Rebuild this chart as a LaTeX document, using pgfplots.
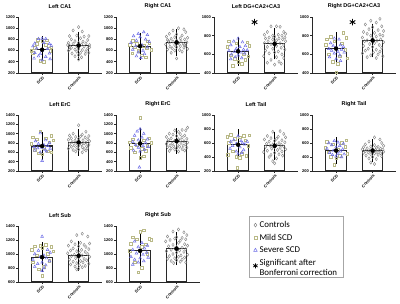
\documentclass[border=0pt]{standalone}
\usepackage{fontspec}
\setmainfont{Liberation Sans}
\newfontfamily\calibri{Carlito}
\usepackage{pgfplots}
\pgfplotsset{compat=1.18}
\definecolor{mildc}{RGB}{185,185,135}
\definecolor{sevc}{RGB}{105,105,230}
\definecolor{ctrlc}{RGB}{130,130,130}
\definecolor{barc}{RGB}{40,40,40}
\pgfplotsset{
 panel/.style={scale only axis, width=84pt, height=56pt, anchor=south west,
  axis lines*=left, axis line style={barc, line width=0.8pt},
  xmin=-0.66, xmax=1.64, xtick={0,1}, xticklabels={SCD,Controls},
  tick align=outside, major tick length=2pt, tick style={barc, line width=0.6pt},
  /pgf/number format/assume math mode=true, /pgf/number format/1000 sep={},
  scaled y ticks=false,
  yticklabel style={font=\fontsize{4}{4}\selectfont\bfseries, inner sep=1pt},
  xticklabel style={font=\fontsize{4}{4}\selectfont\bfseries, rotate=45, anchor=north east, inner sep=0.5pt, yshift=-0.5pt},
  title style={font=\fontsize{5.5}{6}\selectfont\bfseries, yshift=-1pt},
 },
 bars/.style={ybar, bar width=0.56, fill=white, draw=barc, line width=1.1pt, forget plot},
 ctrlL/.style={only marks, mark=diamond, mark size=1.6pt, mark options={draw=ctrlc, fill=none, line width=0.4pt}},
 mildL/.style={only marks, mark=square, mark size=1.3pt, mark options={draw=mildc, fill=none, line width=0.45pt}},
 sevL/.style={only marks, mark=triangle, mark size=1.6pt, mark options={draw=sevc, fill=none, line width=0.45pt}},
 ctrl/.style={ctrlL, forget plot},
 mild/.style={mildL, forget plot},
 sev/.style={sevL, forget plot},
 errs/.style={only marks, mark=none, forget plot, error bars/.cd, y dir=both, y explicit, error bar style={draw=black, line width=0.9pt}, error mark options={draw=black, mark size=7pt, line width=0.9pt}},
 star/.style={only marks, mark=asterisk, mark size=3.2pt, mark options={black, line width=0.9pt}, forget plot},
}
\begin{document}
\begin{tikzpicture}
\path[use as bounding box] (0,0) rectangle (400pt,-304pt);

% ---------- Left CA1
\begin{axis}[panel, at={(18pt,-73pt)}, title={Left CA1}, ymin=200, ymax=1200, ytick={200,400,...,1200}]
\addplot[bars] coordinates {(0,615) (1,690)};
\addplot[ctrl] coordinates {(1,1020)(0.85,960)(1.1,940)(0.75,860)(0.95,870)(1.15,850)(1.28,860)(1.05,820)(0.8,800)(1.25,790)(0.9,770)(1.12,760)(0.72,740)(1,740)(1.2,730)(0.85,720)(1.08,710)(1.3,700)(0.75,690)(0.95,680)(1.15,670)(0.8,650)(1.25,640)(1,630)(0.9,620)(1.1,610)(0.72,600)(1.2,590)(0.95,580)(1.05,560)(0.82,550)(1.18,540)(1,520)(0.9,500)(1.08,480)(1,440)(0.75,620)(1.28,560)(1.3,660)(0.7,700)};
\addplot[mild] coordinates {(-0.12,790)(0.0,780)(0.12,785)(-0.2,650)(0.18,640)(-0.25,560)(0.22,600)(0.05,400)(-0.05,420)(0.1,700)(-0.15,720)(0.25,660)(-0.3,600)};
\addplot[sev] coordinates {(-0.1,810)(0.0,815)(0.1,810)(-0.2,730)(0.05,740)(0.2,720)(-0.25,680)(0.25,690)(-0.15,640)(0.15,630)(0,600)(-0.2,560)(0.2,550)(-0.1,500)(0.1,490)(-0.22,460)(0.22,450)(0,430)(-0.05,540)};
\addplot[errs] coordinates {(0,615) +- (0,118) (1,690) +- (0,125)};
\end{axis}

% ---------- Right CA1
\begin{axis}[panel, at={(116pt,-73pt)}, title={Right CA1}, ymin=200, ymax=1200, ytick={200,400,...,1200}]
\addplot[bars] coordinates {(0,680) (1,745)};
\addplot[ctrl] coordinates {(1.05,1000)(1.2,980)(0.9,960)(1.25,930)(0.8,900)(1,890)(1.15,870)(0.72,850)(0.95,840)(1.3,830)(1.1,820)(0.85,810)(1.22,800)(0.75,790)(1,780)(1.12,770)(0.9,760)(1.28,750)(0.8,740)(1.05,730)(1.18,720)(0.7,710)(0.95,700)(1.25,690)(1.1,680)(0.82,670)(1,660)(1.2,650)(0.88,640)(1.3,630)(0.75,620)(1.08,610)(0.95,600)(1.15,580)(0.85,560)(1,460)(1.22,700)(0.78,770)};
\addplot[mild] coordinates {(-0.2,780)(0.2,770)(-0.1,720)(0.25,730)(-0.28,700)(0.1,690)(-0.15,660)(0.18,640)(-0.05,600)(0.3,620)(-0.22,550)(0.05,520)(0.15,480)};
\addplot[sev] coordinates {(0.1,930)(-0.05,900)(0.2,880)(-0.18,860)(0.0,840)(0.15,800)(-0.1,780)(0.25,760)(-0.25,740)(0.05,700)(-0.12,680)(0.2,660)(-0.2,620)(0.08,600)(-0.05,570)(0.12,540)(-0.1,500)(0.02,470)};
\addplot[errs] coordinates {(0,680) +- (0,115) (1,745) +- (0,110)};
\end{axis}

% ---------- Left DG+CA2+CA3
\begin{axis}[panel, at={(214pt,-73pt)}, title={Left DG+CA2+CA3}, ymin=400, ymax=1000, ytick={400,600,800,1000}]
\addplot[bars] coordinates {(0,632) (1,712)};
\addplot[ctrl] coordinates {(0.9,900)(1.05,900)(1.15,895)(0.8,840)(1.25,840)(1.3,820)(0.72,810)(1.1,810)(0.95,800)(1.2,800)(1,790)(0.85,780)(1.28,780)(0.75,770)(1.12,770)(0.95,760)(1.22,760)(1.05,750)(0.82,740)(1.3,740)(1,730)(0.72,720)(1.15,720)(0.9,710)(1.25,700)(1.05,690)(0.8,680)(1.18,670)(0.95,660)(1.28,650)(0.75,640)(1.1,630)(1,620)(0.85,610)(1.2,600)(0.7,580)(1.05,570)(1.25,560)(0.9,540)(1.12,520)(0.8,510)(1.18,500)(1,490)};
\addplot[mild] coordinates {(-0.25,740)(0.25,730)(-0.05,720)(0.3,690)(-0.3,680)(0.15,600)(-0.2,590)(0.28,580)(-0.1,550)(0.2,540)(0.0,520)(-0.15,475)(0.1,500)};
\addplot[sev] coordinates {(0.0,770)(-0.12,740)(0.12,730)(-0.2,700)(0.2,690)(0.05,680)(-0.05,660)(0.15,650)(-0.25,640)(0.25,645)(-0.1,630)(0.08,620)(-0.18,600)(0.18,610)(0,590)(-0.08,570)(0.1,560)(-0.2,550)};
\addplot[errs] coordinates {(0,632) +- (0,80) (1,712) +- (0,92)};
\addplot[star] coordinates {(0.45,945)};
\end{axis}

% ---------- Right DG+CA2+CA3
\begin{axis}[panel, at={(312pt,-73pt)}, title={Right DG+CA2+CA3}, ymin=400, ymax=1000, ytick={400,600,800,1000}]
\addplot[bars] coordinates {(0,662) (1,748)};
\addplot[ctrl] coordinates {(1.2,980)(0.95,960)(1.1,940)(0.8,920)(1.25,900)(1,890)(0.9,870)(1.15,860)(1.3,850)(0.75,840)(1.05,830)(0.85,820)(1.2,810)(1.28,800)(0.95,800)(1.1,790)(0.72,780)(1,770)(1.22,760)(0.85,750)(1.12,745)(0.78,740)(1.3,730)(1.05,720)(0.92,710)(1.18,700)(0.75,690)(1,680)(1.25,670)(0.88,660)(1.1,650)(0.8,640)(1.2,630)(1.02,620)(0.72,610)(1.15,600)(0.95,590)(1.28,580)(1.1,560)(0.85,570)};
\addplot[mild] coordinates {(0.2,830)(-0.15,790)(0.28,780)(-0.25,760)(-0.05,740)(0.15,720)(-0.28,700)(0.25,650)(-0.2,600)(0.1,580)(0.3,560)(-0.1,520)(0.05,500)(0,410)};
\addplot[sev] coordinates {(-0.05,770)(0.08,760)(-0.15,720)(0.12,700)(-0.08,690)(0.2,680)(0.02,670)(-0.2,660)(0.15,650)(-0.12,640)(0.05,630)(0.22,620)(-0.05,610)(0.1,590)(-0.18,570)(0.0,550)(0.12,530)};
\addplot[errs] coordinates {(0,662) +- (0,97) (1,748) +- (0,105)};
\addplot[star] coordinates {(0.45,945)};
\end{axis}

% ---------- Left ErC
\begin{axis}[panel, at={(18pt,-171pt)}, title={Left ErC}, ymin=200, ymax=1400, ytick={200,400,...,1400}]
\addplot[bars] coordinates {(0,735) (1,812)};
\addplot[ctrl] coordinates {(1,1180)(1.2,1040)(0.85,1000)(1.1,980)(0.75,960)(1.28,950)(1.05,940)(0.92,930)(1.18,920)(0.8,900)(1,890)(1.25,880)(0.72,870)(1.12,860)(0.9,850)(1.3,840)(1.02,830)(0.82,820)(1.2,810)(0.95,800)(1.15,790)(0.75,780)(1.08,770)(1.28,760)(0.88,750)(1,740)(1.22,730)(0.8,720)(1.1,710)(0.95,700)(1.25,690)(0.72,680)(1.15,670)(1,660)(0.85,650)(1.2,640)(0.92,620)(1.1,600)};
\addplot[mild] coordinates {(-0.05,1050)(0.25,960)(-0.25,920)(0.1,900)(-0.15,880)(0.3,860)(0.2,820)(-0.3,780)(0.05,700)(-0.2,650)(0.15,620)(-0.1,580)(0.0,560)(0.25,600)};
\addplot[sev] coordinates {(-0.05,1010)(0.1,860)(-0.18,840)(0.2,800)(-0.1,780)(0.05,760)(0.15,740)(-0.22,720)(0,700)(-0.12,690)(0.22,680)(0.08,660)(-0.2,640)(0.12,620)(-0.05,600)(0,420)};
\addplot[errs] coordinates {(0,735) +- (0,140) (1,812) +- (0,130)};
\end{axis}

% ---------- Right ErC
\begin{axis}[panel, at={(116pt,-171pt)}, title={Right ErC}, ymin=200, ymax=1400, ytick={200,400,...,1400}]
\addplot[bars] coordinates {(0,790) (1,840)};
\addplot[ctrl] coordinates {(1.3,1130)(1.15,1080)(1.25,1070)(0.95,1070)(1.05,1040)(0.8,1000)(1.1,990)(0.9,980)(1.22,960)(1,950)(0.72,930)(1.15,920)(0.85,900)(1.28,890)(1.05,880)(0.78,870)(1.1,860)(0.95,850)(1.2,840)(0.75,830)(1,820)(1.3,810)(1.12,800)(0.88,790)(0.72,780)(1.25,770)(1.02,760)(0.82,750)(1.18,740)(0.92,730)(1.08,720)(0.75,710)(1.28,700)(1,690)(0.85,680)(1.15,670)(0.95,660)(1.22,640)(0.8,630)(1.05,620)};
\addplot[mild] coordinates {(0,1340)(0.25,900)(-0.2,880)(0.1,860)(-0.28,820)(0.3,800)(-0.1,760)(0.2,740)(-0.25,700)(0.05,680)(0.15,640)(-0.15,600)(0,480)(0.1,520)};
\addplot[sev] coordinates {(0,1100)(-0.08,1050)(0.1,1000)(-0.15,960)(0.05,920)(0.2,880)(-0.05,860)(-0.2,830)(0.15,800)(0,780)(-0.12,760)(0.08,740)(0.22,720)(-0.05,700)(0.12,660)(-0.18,640)(0,620)(-0.02,280)};
\addplot[errs] coordinates {(0,790) +- (0,180) (1,840) +- (0,125)};
\end{axis}

% ---------- Left Tail
\begin{axis}[panel, at={(214pt,-171pt)}, title={Left Tail}, ymin=200, ymax=1000, ytick={200,400,...,1000}]
\addplot[bars] coordinates {(0,575) (1,560)};
\addplot[ctrl] coordinates {(1.15,770)(0.95,760)(1.25,730)(0.8,700)(1.1,690)(1.3,680)(0.9,670)(1.05,660)(0.72,650)(1.2,640)(1,630)(0.85,620)(1.28,610)(1.12,600)(0.78,590)(0.95,580)(1.18,575)(1.05,570)(0.88,560)(1.25,550)(0.75,545)(1,540)(1.15,530)(0.92,520)(1.3,510)(1.08,500)(0.8,490)(1.2,480)(0.7,470)(1,460)(1.12,440)(0.9,430)(1.22,420)(0.85,400)(1.05,380)(0.95,340)(1,310)};
\addplot[mild] coordinates {(-0.2,720)(0.3,710)(0.15,700)(-0.3,690)(0.05,680)(-0.1,660)(0.2,640)(-0.25,600)(0.28,560)(-0.15,480)(0.1,450)(-0.28,430)(0.22,420)(-0.05,400)(0.05,390)(-0.02,250)};
\addplot[sev] coordinates {(0.0,700)(-0.12,640)(0.08,630)(-0.2,620)(0.25,620)(0.12,600)(-0.05,590)(0.18,580)(-0.15,560)(0.05,540)(-0.22,520)(0.15,500)(-0.05,480)(0.1,460)(0,440)};
\addplot[errs] coordinates {(0,575) +- (0,120) (1,560) +- (0,100)};
\end{axis}

% ---------- Right Tail
\begin{axis}[panel, at={(312pt,-171pt)}, title={Right Tail}, ymin=200, ymax=1000, ytick={200,400,...,1000}]
\addplot[bars] coordinates {(0,492) (1,490)};
\addplot[ctrl] coordinates {(1.05,680)(1.2,650)(0.9,620)(1.25,600)(0.8,580)(1.05,570)(1.3,560)(0.95,550)(1.15,545)(0.75,540)(1.1,530)(0.85,525)(1.22,520)(1,515)(0.72,510)(1.28,505)(1.08,500)(0.92,495)(1.18,490)(0.8,485)(1,480)(1.3,475)(1.12,470)(0.88,465)(0.75,460)(1.22,455)(1.05,450)(0.95,440)(1.15,430)(0.82,420)(1.25,410)(1,400)(0.9,380)(1.1,370)(0.95,320)(1.05,300)};
\addplot[mild] coordinates {(0.28,640)(-0.25,620)(0.15,600)(-0.1,580)(0.25,550)(-0.3,530)(0.05,500)(-0.2,470)(0.3,450)(0.1,420)(-0.15,400)(0,380)(-0.05,290)};
\addplot[sev] coordinates {(-0.05,630)(0.05,610)(-0.2,600)(0.2,590)(-0.12,570)(0.1,560)(0,540)(-0.25,520)(0.18,510)(-0.08,490)(0.12,480)(-0.18,460)(0.05,450)(0.22,440)(-0.1,430)(0,410)(0.15,400)};
\addplot[errs] coordinates {(0,492) +- (0,88) (1,490) +- (0,62)};
\end{axis}

% ---------- Left Sub
\begin{axis}[panel, at={(18pt,-282pt)}, title={Left Sub}, ymin=600, ymax=1400, ytick={600,800,...,1400}]
\addplot[bars] coordinates {(0,955) (1,975)};
\addplot[ctrl] coordinates {(1.1,1290)(0.95,1270)(1.25,1250)(0.8,1180)(1.05,1160)(1.3,1150)(0.9,1140)(1.15,1130)(0.72,1120)(1,1110)(1.2,1100)(0.85,1080)(1.28,1070)(1.08,1060)(0.78,1050)(0.95,1040)(1.18,1030)(1.02,1020)(0.7,1010)(1.25,1000)(0.88,990)(1.1,980)(0.8,970)(1.3,960)(1,950)(0.92,940)(1.15,930)(0.75,920)(1.22,910)(1.05,900)(0.85,890)(1.12,880)(0.95,870)(1.28,860)(0.78,850)(1.02,840)(1.18,830)(0.9,820)(1.1,810)(1,790)(0.95,780)};
\addplot[mild] coordinates {(-0.05,1120)(0.1,1130)(-0.2,1110)(0.25,1100)(0.0,1090)(-0.28,1060)(0.3,1040)(0.15,1000)(-0.15,980)(0.2,900)(-0.25,880)(0.05,820)(-0.1,780)(0,690)};
\addplot[sev] coordinates {(0,1250)(0.15,1060)(-0.1,1050)(0.22,1020)(-0.2,1000)(0.05,980)(-0.05,960)(0.12,940)(-0.25,920)(0.2,900)(0,880)(-0.12,860)(0.1,840)(-0.2,820)(0.05,800)(0,760)};
\addplot[errs] coordinates {(0,955) +- (0,115) (1,975) +- (0,115)};
\end{axis}

% ---------- Right Sub (with legend)
\begin{axis}[panel, at={(116pt,-282pt)}, title={Right Sub}, ymin=600, ymax=1400, ytick={600,800,...,1400},
  legend style={at={(1.583,1.179)}, anchor=north west, draw=gray!70, line width=0.6pt,
    font=\calibri\fontsize{8.9}{10}\selectfont, inner xsep=4pt, inner ysep=3pt, row sep=1pt},
  legend cell align=left]
\addlegendimage{only marks, mark=diamond, mark size=1.9pt, mark options={draw=ctrlc, fill=none, line width=0.45pt}}\addlegendentry{Controls}
\addlegendimage{only marks, mark=square, mark size=1.6pt, mark options={draw=mildc, fill=none, line width=0.5pt}}\addlegendentry{Mild SCD}
\addlegendimage{only marks, mark=triangle, mark size=2pt, mark options={draw=sevc, fill=none, line width=0.5pt}}\addlegendentry{Severe SCD}
\addlegendimage{only marks, mark=asterisk, mark size=2.5pt, mark options={black, line width=0.8pt}}
\addlegendentry{\begin{tabular}[c]{@{}l@{}}Significant after\\Bonferroni correction\end{tabular}}
\addplot[bars] coordinates {(0,1045) (1,1075)};
\addplot[ctrl] coordinates {(1.05,1350)(0.9,1320)(1.2,1310)(1.28,1270)(0.75,1250)(1,1240)(1.15,1230)(0.95,1220)(1.25,1210)(0.82,1200)(1.1,1190)(0.7,1180)(1.05,1160)(1.22,1140)(0.9,1130)(1.3,1120)(0.78,1110)(1,1100)(1.15,1090)(0.95,1080)(1.25,1070)(0.85,1060)(1.08,1050)(0.72,1040)(1.2,1030)(1,1020)(0.9,1000)(1.3,990)(1.12,980)(0.8,970)(1.05,960)(1.22,950)(0.95,940)(0.75,930)(1.15,920)(1,910)(0.85,900)(1.1,890)(1.25,880)(0.92,870)};
\addplot[mild] coordinates {(0.1,1340)(0.0,1320)(-0.2,1240)(0.25,1220)(-0.1,1210)(0.3,1200)(-0.25,1150)(0.15,1140)(0.05,1100)(-0.28,1050)(0.2,1000)(-0.15,880)(0.05,800)(-0.05,740)};
\addplot[sev] coordinates {(-0.15,1180)(0.05,1160)(0.2,1120)(-0.05,1100)(0.12,1080)(-0.2,1060)(0,1040)(0.18,1020)(-0.1,1010)(0.08,990)(-0.25,960)(0.22,950)(0,940)(-0.15,920)(0.1,900)(-0.05,880)(-0.2,850)};
\addplot[errs] coordinates {(0,1045) +- (0,150) (1,1075) +- (0,135)};
\end{axis}
\end{tikzpicture}
\end{document}
